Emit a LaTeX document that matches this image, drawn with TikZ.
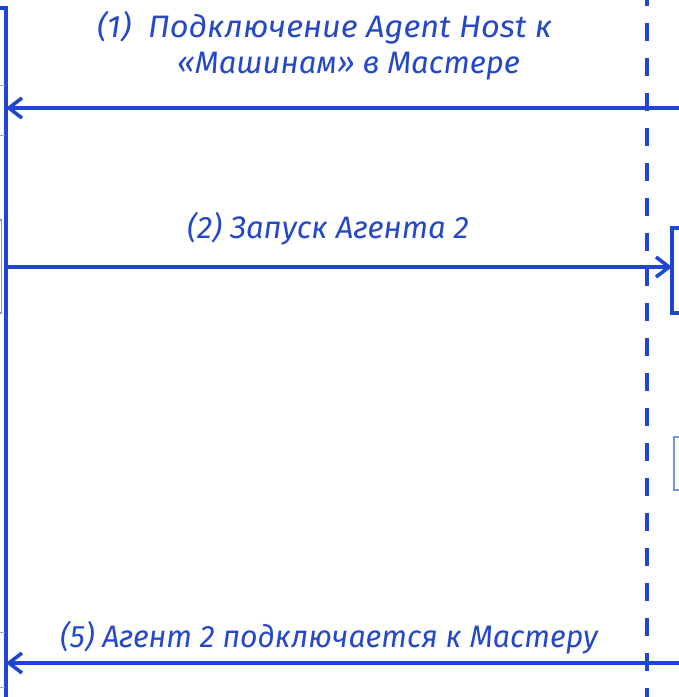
\documentclass[tikz,border=0pt]{standalone}
\usepackage{fontspec}
\setmainfont{Fira Sans}
\usetikzlibrary{arrows.meta}
\definecolor{lineblue}{HTML}{1E46D2}
\definecolor{textblue}{HTML}{2448C8}
\definecolor{faintblue}{HTML}{7A90E0}
\definecolor{tickgray}{HTML}{9AA4C0}
\begin{document}
\begin{tikzpicture}[x=1pt,y=-1pt,
  lbl/.style={anchor=base west,inner sep=0pt,text=textblue,font=\fontsize{31}{36}\selectfont\itshape},
  msg/.style={draw=lineblue,line width=3.6pt,-{Straight Barb[length=13pt,width=20pt,line width=3.6pt]}},
  life/.style={draw=lineblue,line width=3.6pt},
  dashlife/.style={draw=lineblue,line width=4.5pt,dash pattern=on 18pt off 17pt},
  faint/.style={draw=faintblue,line width=1.5pt},
  tick/.style={draw=tickgray,line width=1pt}]
\useasboundingbox[fill=white] (0,0) rectangle (679,697);
% coordinates
\coordinate (Ltop) at (6,8);
\coordinate (Lbot) at (6,697);
\coordinate (Ltl) at (0,8);
\coordinate (Dtop) at (647,-12);
\coordinate (Dbot) at (647,697);
\coordinate (R1) at (679,108);
\coordinate (L1) at (6,108);
\coordinate (L2) at (6,267);
\coordinate (B1w) at (672,267);
\coordinate (R5) at (679,663);
\coordinate (L5) at (6,663);
% lifelines
\draw[life] (Ltl) -- (Ltop) -- (Lbot);
\draw[dashlife] (Dtop) -- (Dbot);
% partial boxes
\draw[life] (679,228) -- (672,228) -- (672,313) -- (679,313);
\draw[faint] (679,437) -- (674,437) -- (674,490) -- (679,490);
\draw[faint] (0,220) -- (1.5,220) -- (1.5,313) -- (0,313);
\draw[tick] (0,85) -- (5,85);
\draw[tick] (0,135) -- (5,135);
\draw[tick] (0,632) -- (5,632);
\draw[tick] (0,687) -- (5,687);
% messages
\draw[msg] (R1) -- (L1);
\draw[msg] (L2) -- (B1w);
\draw[msg] (R5) -- (L5);
% labels
\node[lbl,xscale=1.05,transform shape] (t1a) at (97,37) {(1)\ \ Подключение Agent Host к};
\node[lbl] (t1b) at (177,73) {«Машинам» в Мастере};
\node[lbl] (t2) at (187,238) {(2) Запуск Агента 2};
\node[lbl,xscale=0.976,transform shape] (t5) at (60,647) {(5) Агент 2 подключается к Мастеру};
\end{tikzpicture}
\end{document}
